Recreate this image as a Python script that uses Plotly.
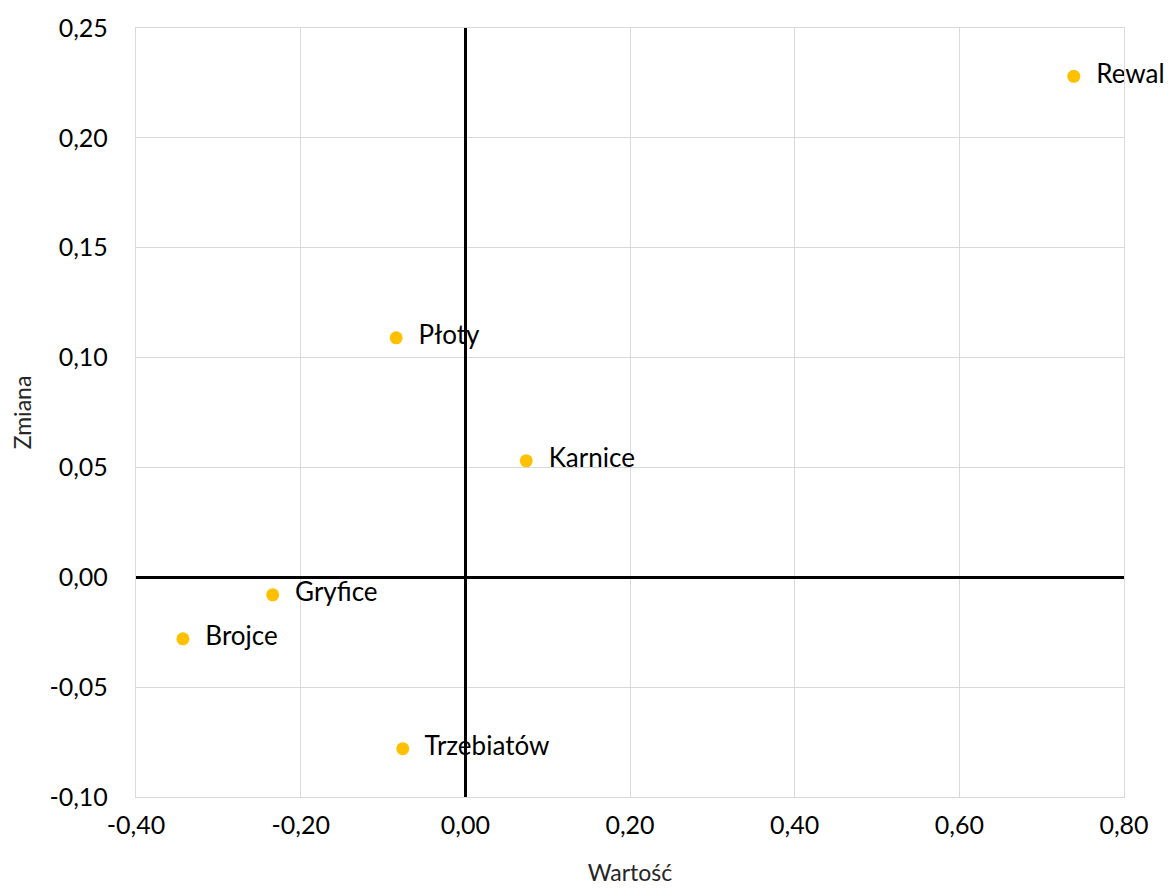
import plotly.graph_objects as go

names = ["Rewal", "Płoty", "Karnice", "Gryfice", "Brojce", "Trzebiatów"]
wartosc = [0.739, -0.084, 0.074, -0.234, -0.343, -0.076]
zmiana = [0.228, 0.109, 0.053, -0.008, -0.028, -0.078]

x_ticks = [-0.4, -0.2, 0.0, 0.2, 0.4, 0.6, 0.8]
x_tick_labels = ["-0,40", "-0,20", "0,00", "0,20", "0,40", "0,60", "0,80"]
y_ticks = [-0.10, -0.05, 0.0, 0.05, 0.10, 0.15, 0.20, 0.25]
y_tick_labels = ["-0,10", "-0,05", "0,00", "0,05", "0,10", "0,15", "0,20", "0,25"]

FONT = "Lato"

fig = go.Figure(go.Scatter(
    x=wartosc, y=zmiana, mode="markers+text",
    text=["  " + n for n in names], textposition="middle right",
    textfont=dict(family=FONT, size=26, color="black"),
    marker=dict(color="#FFC000", size=13),
    cliponaxis=False, hoverinfo="skip",
))

axis_common = dict(
    showgrid=True, gridcolor="#d9d9d9", gridwidth=1.3,
    zeroline=True, zerolinecolor="black", zerolinewidth=2.5,
    showline=True, linecolor="#d9d9d9", linewidth=1.3, mirror=True,
    ticks="", automargin=False,
    tickfont=dict(family=FONT, size=25, color="black"),
)

fig.update_layout(
    width=1172, height=891,
    margin=dict(l=128, r=56, t=20, b=102),
    plot_bgcolor="white", paper_bgcolor="white",
    showlegend=False,
    xaxis=dict(range=[-0.4, 0.8], tickvals=x_ticks, ticktext=x_tick_labels,
               ticklabelstandoff=6,
               title=dict(text="Wartość", font=dict(family=FONT, size=23, color="#262626"), standoff=26),
               **axis_common),
    yaxis=dict(range=[-0.10, 0.25], tickvals=y_ticks, ticktext=y_tick_labels,
               ticklabelstandoff=22,
               title=dict(text="Zmiana", font=dict(family=FONT, size=23, color="#262626"), standoff=15),
               **axis_common),
)

fig.write_html("out.html")
